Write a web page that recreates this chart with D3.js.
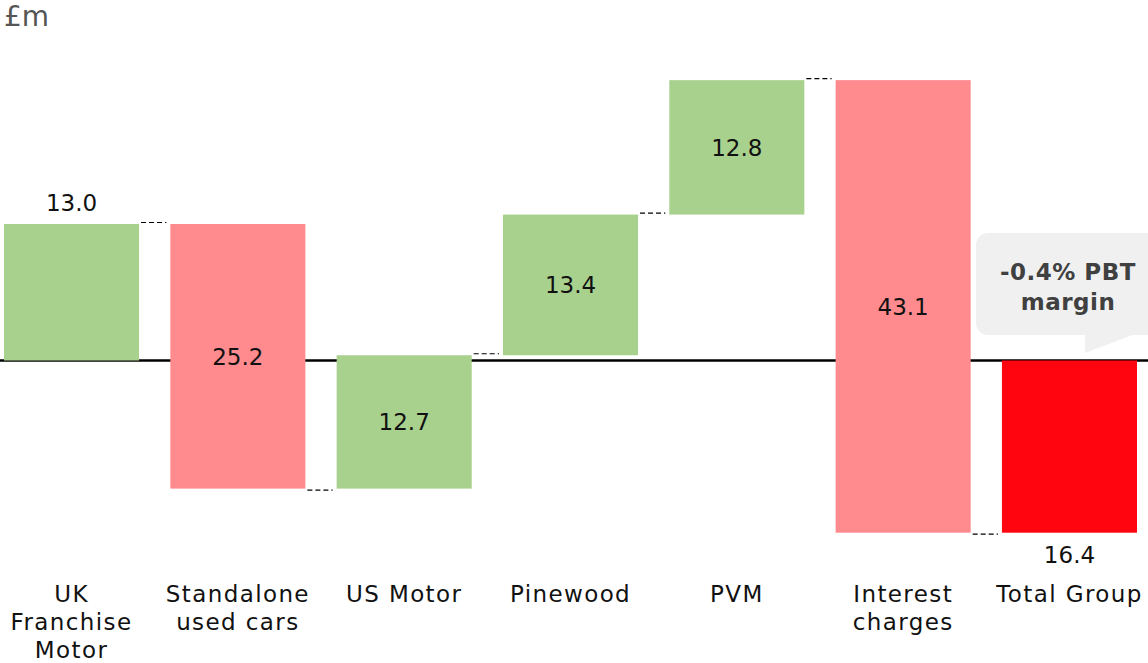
<!DOCTYPE html>
<html><head><meta charset="utf-8">
<script src="https://cdn.jsdelivr.net/npm/d3@7"></script>
<style>
html,body{margin:0;padding:0;background:#fff;}
svg{display:block;font-family:"DejaVu Sans",sans-serif;}
</style></head>
<body><svg id="c" width="1148" height="663"></svg>
<script>
const categories = ["UK Franchise Motor","Standalone used cars","US Motor","Pinewood","PVM","Interest charges","Total Group"];
const categoryLines = [["UK","Franchise","Motor"],["Standalone","used cars"],["US Motor"],["Pinewood"],["PVM"],["Interest","charges"],["Total Group"]];
const values = [13.0, -25.2, 12.7, 13.4, 12.8, -43.1, -16.4];
const isTotal = [false,false,false,false,false,false,true];
const unitLabel = "£m";
const calloutLines = ["-0.4% PBT","margin"];

const svg = d3.select("#c");
const W = 1148, H = 663;

let cum = 0;
const steps = values.map((v,i)=>{
  let start, end;
  if (isTotal[i]) { start = 0; end = v; }
  else { start = cum; end = cum + v; cum = end; }
  return {cat: categories[i], lines: categoryLines[i], v, start, end, total: isTotal[i]};
});

const x = d3.scaleBand().domain(categories).range([4,1137]).paddingInner(0.188).paddingOuter(0);
const y = d3.scaleLinear().domain([-20,30]).range([570.5,45.5]);

const colPos = "#a9d18e", colNeg = "#ff8b8f", colTot = "#ff0510";

// zero line (behind bars)
svg.append("line").attr("x1",0).attr("x2",W).attr("y1",y(0)).attr("y2",y(0))
  .attr("stroke","#000").attr("stroke-width",2.5);

// bars
svg.selectAll("rect.bar").data(steps).join("rect")
  .attr("class","bar")
  .attr("x", d=>x(d.cat))
  .attr("width", x.bandwidth())
  .attr("y", d=>y(Math.max(d.start,d.end)))
  .attr("height", d=>Math.abs(y(d.start)-y(d.end)))
  .attr("fill", d=>d.total?colTot:(d.v>=0?colPos:colNeg));

// connectors
for (let i=0;i<steps.length-1;i++){
  const d = steps[i], n = steps[i+1];
  const lvl = d.end;
  const off = d.v>=0 ? -1.5 : 1.5;
  svg.append("line")
    .attr("x1", x(d.cat)+x.bandwidth()+2)
    .attr("x2", x(n.cat)-4)
    .attr("y1", y(lvl)+off).attr("y2", y(lvl)+off)
    .attr("stroke","#000").attr("stroke-width",1.2)
    .attr("stroke-dasharray","5,3");
}

// value labels
svg.selectAll("text.val").data(steps).join("text")
  .attr("class","val")
  .attr("x", d=>x(d.cat)+x.bandwidth()/2)
  .attr("y", (d,i)=>{
    if (i===0) return y(d.end)-21;
    if (d.total) return y(d.end)+22;
    return (y(d.start)+y(d.end))/2;
  })
  .attr("dy","0.36em")
  .attr("text-anchor","middle")
  .attr("font-size",23)
  .attr("fill","#111")
  .text(d=>Math.abs(d.v).toFixed(1));

// category labels
steps.forEach(d=>{
  const t = svg.append("text")
    .attr("text-anchor","middle")
    .attr("font-size",23)
    .attr("letter-spacing","1.4px")
    .attr("fill","#111");
  d.lines.forEach((ln,j)=>{
    t.append("tspan").attr("x", x(d.cat)+x.bandwidth()/2).attr("y", 602+j*28).text(ln);
  });
});

// unit label
svg.append("text").attr("x",4).attr("y",26).attr("font-size",28).attr("fill","#555").text(unitLabel);

// callout
const cx0 = 976, cy0 = 233, cw = 190, ch = 102;
svg.append("rect").attr("x",cx0).attr("y",cy0).attr("width",cw).attr("height",ch)
  .attr("rx",12).attr("fill","#f0f0f0");
svg.append("path").attr("d",`M1085,${cy0+ch-1} L1085,353 L1135,${cy0+ch-1} Z`).attr("fill","#f0f0f0");
const ct = svg.append("text").attr("text-anchor","middle").attr("font-size",23)
  .attr("font-weight","bold").attr("letter-spacing","0.5px").attr("fill","#404040");
calloutLines.forEach((ln,j)=>{
  ct.append("tspan").attr("x",1068).attr("y",280+j*30).text(ln);
});
</script></body></html>
